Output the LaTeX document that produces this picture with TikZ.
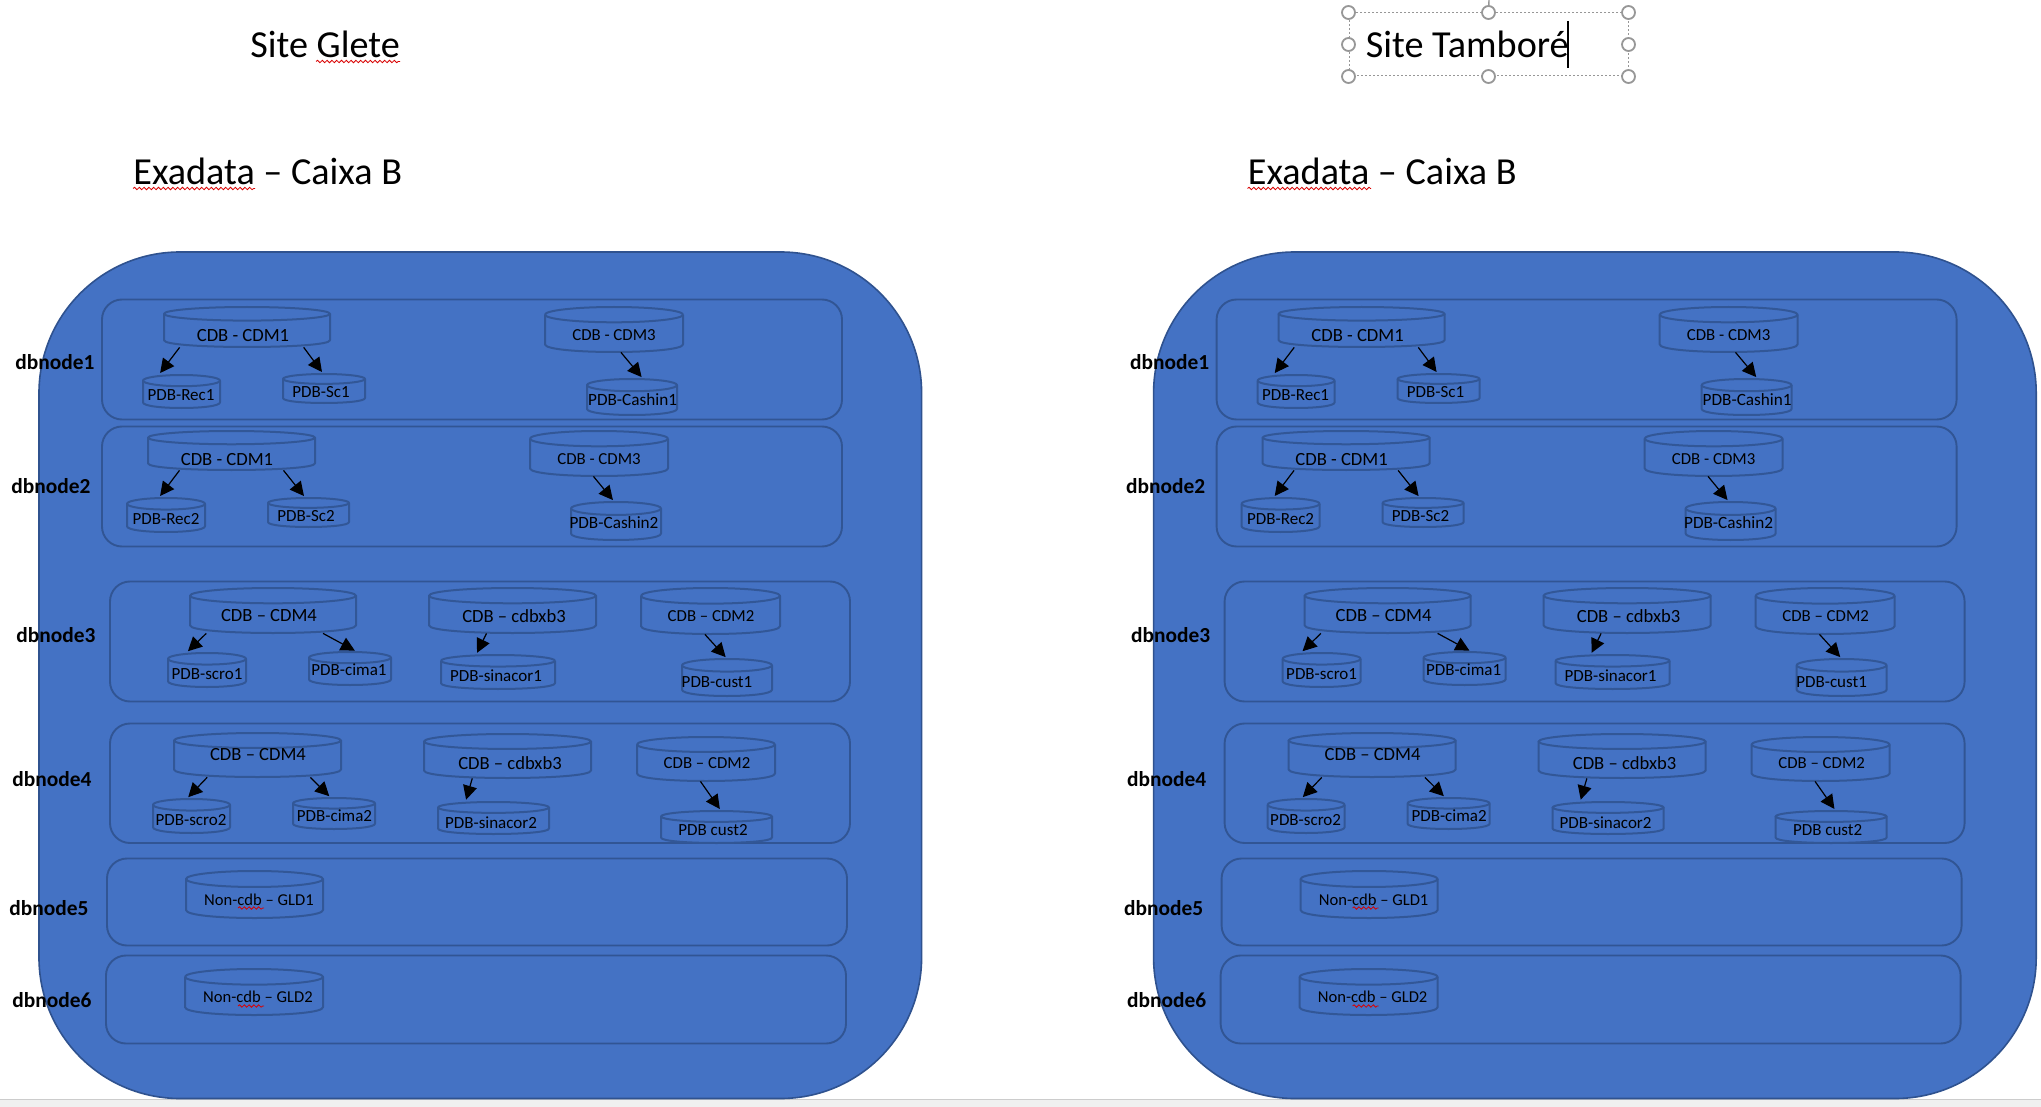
\documentclass[tikz,border=0pt]{standalone}
\usepackage{fontspec}
\setmainfont{Carlito}
\usetikzlibrary{arrows.meta,calc,fit,decorations.pathmorphing}
\definecolor{fillb}{HTML}{4472C4}
\definecolor{lineb}{HTML}{2F528F}
\definecolor{hand}{HTML}{979797}
\tikzset{
  cylline/.style={draw=lineb!85!fillb,line width=1pt,line join=round},
  rowbox/.style={draw=lineb!90!fillb,line width=0.95pt,rounded corners=10pt,inner sep=0pt},
  panelbox/.style={draw=lineb,fill=fillb,line width=0.8pt,rounded corners=70.5pt,inner sep=0pt},
  cyltext/.style={inner sep=0pt,text=black},
  nodelabel/.style={inner sep=0pt,font=\fontsize{10.7}{12}\selectfont\bfseries,text=black},
  title/.style={inner sep=0pt,anchor=base west,font=\fontsize{19.1}{22}\selectfont,text=black},
  linkarrow/.style={draw=black,line width=0.6pt,-{Triangle[length=7pt,width=7pt]},shorten >=1pt},
  squig/.style={draw=red!85!black,line width=0.4pt,decorate,decoration={snake,amplitude=0.6pt,segment length=2.4pt}},
  handle/.style={circle,draw=hand,fill=white,line width=0.9pt,minimum size=6.5pt,inner sep=0pt},
}
% name, x1, y1, x2, y2, text x, text y, size, text
\newcommand{\dbcyl}[9]{%
  \pgfmathsetmacro{\xa}{#2+\ox}\pgfmathsetmacro{\xb}{#4+\ox}%
  \pgfmathsetmacro{\cx}{(\xa+\xb)/2}\pgfmathsetmacro{\rx}{(\xb-\xa)/2}%
  \pgfmathsetmacro{\ry}{0.17*(#5-#3)}%
  \pgfmathsetmacro{\yt}{#3+\ry}\pgfmathsetmacro{\yb}{#5-\ry}%
  \pgfmathsetmacro{\yc}{#5+\ry/3}%
  \pgfmathsetmacro{\tx}{#6+\ox}%
  \coordinate (\pfx-#1-a) at (\xa,#3);\coordinate (\pfx-#1-b) at (\xb,#5);%
  \node[fit=(\pfx-#1-a)(\pfx-#1-b),inner sep=0pt] (\pfx-#1) {};%
  \draw[cylline] (\xa,\yt) -- (\xa,\yb) .. controls (\xa,\yc) and (\xb,\yc) .. (\xb,\yb) -- (\xb,\yt);%
  \draw[cylline] (\cx,\yt) ellipse [x radius=\rx,y radius=\ry];%
  \node[cyltext,font=\fontsize{#8}{#8}\selectfont] (\pfx-#1-t) at (\tx,#7) {#9};%
}
% row: name x1 y1 x2 y2
\newcommand{\dbrow}[5]{%
  \pgfmathsetmacro{\xa}{#2+\ox}\pgfmathsetmacro{\xb}{#4+\ox}%
  \coordinate (\pfx-#1-a) at (\xa,#3);\coordinate (\pfx-#1-b) at (\xb,#5);%
  \node[fit=(\pfx-#1-a)(\pfx-#1-b),rowbox] (\pfx-#1) {};%
}
% link: from, frac, to, frac
\newcommand{\dblink}[4]{%
  \draw[linkarrow] ($(\pfx-#1.south west)!#2!(\pfx-#1.south east)$) -- ($(\pfx-#3.north west)!#4!(\pfx-#3.north east)$);%
}
\newcommand{\dblabel}[4]{%
  \pgfmathsetmacro{\tx}{#2+\ox}%
  \node[nodelabel] (\pfx-#1) at (\tx,#3) {#4};%
}
\begin{document}
\begin{tikzpicture}[x=0.5pt,y=-0.5pt]
\useasboundingbox (0,0) rectangle (2041,1107);
\fill[white] (0,0) rectangle (2041,1107);
% bottom strip
\fill[black!6] (0,1099) rectangle (2041,1107);
\draw[black!20,line width=0.5pt] (0,1099) -- (2041,1099);

\foreach \pfx/\ox in {g/0,t/1114.6}{
  \pgfmathsetmacro{\xa}{39+\ox}\pgfmathsetmacro{\xb}{921.6+\ox}
  \coordinate (\pfx-p-a) at (\xa,252);\coordinate (\pfx-p-b) at (\xb,1098.5);
  \node[fit=(\pfx-p-a)(\pfx-p-b),panelbox] (\pfx-panel) {};

  \dbrow{r1}{102}{299.5}{842}{419.5}
  \dbrow{r2}{102}{426.5}{842}{546.5}
  \dbrow{r3}{110}{581.5}{850}{701.5}
  \dbrow{r4}{110}{723.5}{850}{843}
  \dbrow{r5}{107}{858.5}{847}{945.5}
  \dbrow{r6}{106}{955.5}{846}{1043.5}

  \dbcyl{cdm1a}{164}{307}{330}{347}{243}{336}{9.3}{CDB - CDM1}
  \dbcyl{rec1}{143}{375}{220}{408}{181}{395}{8.5}{PDB-Rec1}
  \dbcyl{sc1}{283}{374}{365}{403}{321}{392}{8.5}{PDB-Sc1}
  \dbcyl{cdm3a}{545}{307}{683}{352}{614}{335}{8.4}{CDB - CDM3}
  \dbcyl{cash1}{587}{379}{677}{415}{632.6}{400}{8.6}{PDB-Cashin1}

  \dbcyl{cdm1b}{148}{431}{315}{470}{227}{460}{9.3}{CDB - CDM1}
  \dbcyl{rec2}{127}{498}{205}{532}{166}{519}{8.5}{PDB-Rec2}
  \dbcyl{sc2}{268}{498}{349}{527}{306}{516}{8.5}{PDB-Sc2}
  \dbcyl{cdm3b}{530}{431}{668}{476}{599}{459}{8.4}{CDB - CDM3}
  \dbcyl{cash2}{571}{502}{661}{540}{614}{523}{8.6}{PDB-Cashin2}

  \dbcyl{cdm4a}{190}{588}{356}{633}{269}{616}{9.3}{CDB – CDM4}
  \dbcyl{scro1}{168}{653}{246}{687}{207}{674}{8.5}{PDB-scro1}
  \dbcyl{cima1}{309}{652}{391}{685}{349}{670}{8.5}{PDB-cima1}
  \dbcyl{xb3a}{429}{588}{596}{633}{514}{616}{9.3}{CDB – cdbxb3}
  \dbcyl{sina1}{441}{655}{555}{689}{496}{676}{8.5}{PDB-sinacor1}
  \dbcyl{cdm2a}{641}{588}{780}{634}{711}{616}{8.4}{CDB – CDM2}
  \dbcyl{cust1}{682}{659}{772}{696}{717}{682}{8.5}{PDB-cust1}

  \dbcyl{cdm4b}{174}{733}{341}{777}{258}{755}{9.3}{CDB – CDM4}
  \dbcyl{scro2}{153}{799}{230}{833}{191}{820}{8.5}{PDB-scro2}
  \dbcyl{cima2}{293}{798}{375}{829}{334.5}{816}{8.5}{PDB-cima2}
  \dbcyl{xb3b}{424}{734}{591}{778}{510}{763}{9.3}{CDB – cdbxb3}
  \dbcyl{sina2}{438}{802}{549}{834}{491}{823}{8.5}{PDB-sinacor2}
  \dbcyl{cdm2b}{637}{737}{775}{781}{707}{763}{8.4}{CDB – CDM2}
  \dbcyl{cust2}{661}{811}{772}{843}{713}{830.5}{8.5}{PDB cust2}

  \dbcyl{gld1}{186}{871}{323}{918}{259}{900}{8.3}{Non-cdb – GLD1}
  \dbcyl{gld2}{185}{969}{323}{1015}{258}{997}{8.3}{Non-cdb – GLD2}

  \dblink{cdm1a}{0.096}{rec1}{0.21}
  \dblink{cdm1a}{0.84}{sc1}{0.49}
  \dblink{cdm3a}{0.55}{cash1}{0.62}
  \dblink{cdm1b}{0.19}{rec2}{0.41}
  \dblink{cdm1b}{0.81}{sc2}{0.46}
  \dblink{cdm3b}{0.46}{cash2}{0.48}
  \dblink{cdm4a}{0.10}{scro1}{0.24}
  \dblink{cdm4a}{0.80}{cima1}{0.58}
  \dblink{xb3a}{0.345}{sina1}{0.31}
  \dblink{cdm2a}{0.46}{cust1}{0.50}
  \dblink{cdm4b}{0.20}{scro2}{0.44}
  \dblink{cdm4b}{0.815}{cima2}{0.46}
  \dblink{xb3b}{0.29}{sina2}{0.25}
  \dblink{cdm2b}{0.46}{cust2}{0.54}

  \dblabel{l1}{55}{362}{dbnode1}
  \dblabel{l2}{51}{486}{dbnode2}
  \dblabel{l3}{56}{635}{dbnode3}
  \dblabel{l4}{52}{779}{dbnode4}
  \dblabel{l5}{49}{908}{dbnode5}
  \dblabel{l6}{52}{1000.5}{dbnode6}

  % spell-check squiggles
  \pgfmathsetmacro{\xa}{238+\ox}\pgfmathsetmacro{\xb}{264+\ox}
  \draw[squig] (\xa,908) -- (\xb,908);
  \draw[squig] (\xa,1006) -- (\xb,1006);
}

% titles
\node[title] (siteg) at (250,58) {Site Glete};
\draw[squig] (316,61.5) -- (400,61.5);
\node[title] (ex1) at (133,185) {Exadata – Caixa B};
\draw[squig] (133,188.5) -- (255,188.5);
\node[title] (ex2) at (1247.5,185) {Exadata – Caixa B};
\draw[squig] (1247.5,188.5) -- (1371,188.5);
\node[title] (sitet) at (1365.5,58) {Site Tamboré};
\draw[black,line width=0.6pt] (1568,21) -- (1568,68);

% selection frame
\coordinate (sa) at (1349,13);\coordinate (sb) at (1628,76);
\node[fit=(sa)(sb),inner sep=0pt,draw=hand,dashed,dash pattern=on 1pt off 1pt,line width=0.5pt] (sel) {};
\coordinate (stem) at (1489,0);
\draw[hand,line width=0.7pt] (stem) -- (sel.north);
\foreach \a in {north west,north,north east,west,east,south west,south,south east}
  \node[handle] (h-\a) at (sel.\a) {};
\end{tikzpicture}
\end{document}
